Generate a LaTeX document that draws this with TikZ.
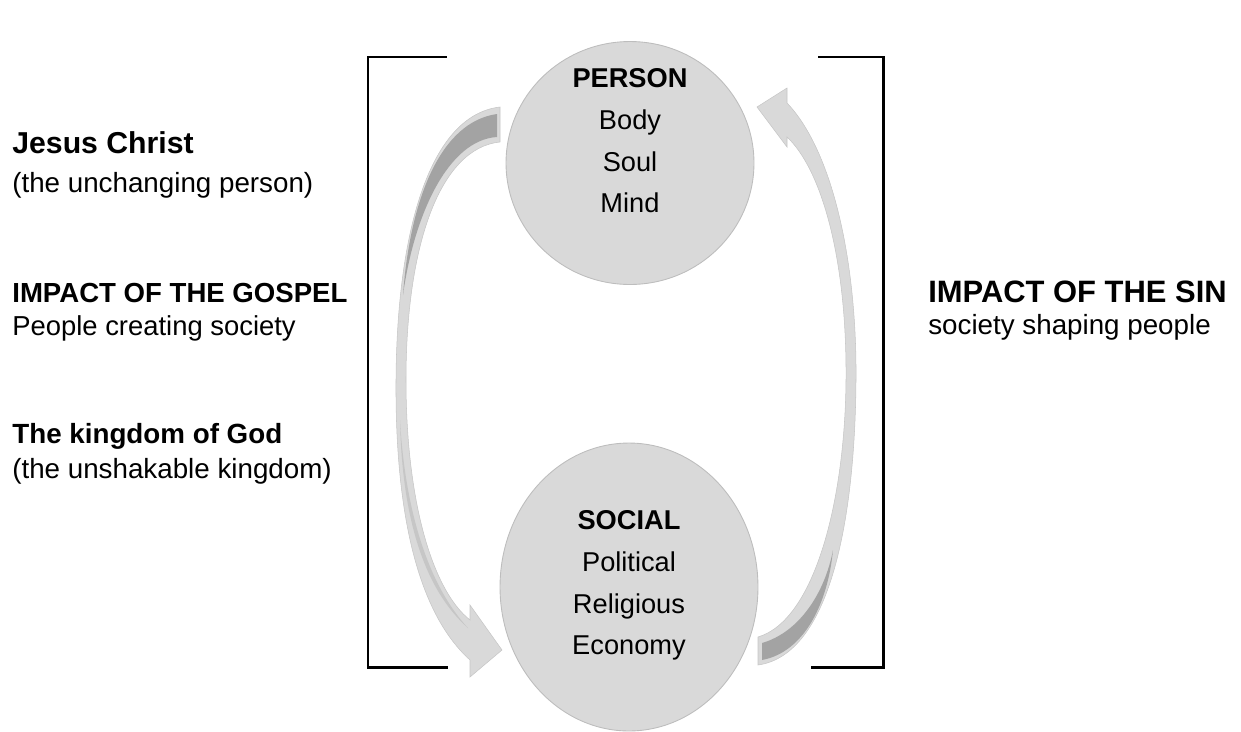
\documentclass[tikz,border=0pt]{standalone}
\usepackage{fontspec}
\setmainfont{Liberation Sans}
\usetikzlibrary{shapes.geometric}
\definecolor{bubble}{HTML}{D9D9D9}
\definecolor{bubbleline}{HTML}{BDBDBD}
\definecolor{arrowlight}{HTML}{D9D9D9}
\definecolor{arrowmid}{HTML}{C6C6C6}
\definecolor{arrowdark}{HTML}{A3A3A3}
\tikzset{
  bubble/.style={ellipse,draw=bubbleline,fill=bubble,line width=0.5pt,inner sep=0pt},
  intext/.style={anchor=north,align=center,inner sep=0pt,font=\fontsize{15.5}{23.8}\selectfont},
  side/.style={anchor=base west,inner sep=0pt,font=\fontsize{15.8}{18}\selectfont},
  bigside/.style={anchor=base west,inner sep=0pt,font=\fontsize{17.4}{20}\selectfont\bfseries},
  band/.style={fill=arrowlight,draw=arrowmid,line width=0.3pt},
  bracket/.style={line width=1.7pt,line cap=rect},
}

\begin{document}
\begin{tikzpicture}[x=0.02cm,y=-0.02cm]
	\useasboundingbox (0,0) rectangle (1241,731);

	\node[bubble,minimum width=4.96cm,minimum height=4.86cm] (person) at (630,163) {};
	\node[bubble,minimum width=5.16cm,minimum height=5.76cm] (social) at (629,587) {};
	\node[intext] (persontext) at (630,68) {\textbf{PERSON}\\Body\\Soul\\Mind};
	\node[intext] (socialtext) at (629,510) {\textbf{SOCIAL}\\Political\\Religious\\Economy};

	% brackets
	\draw[bracket] (446,57) -- (368,57) -- (368,667) -- (447,667);
	\draw[bracket] (819,57) -- (883,57) -- (883,667) -- (812,667);

	% gospel arrow, person to social
	\path[band] (500,107) .. controls (430,115) and (397,230) .. (396,380)
		.. controls (395,520) and (420,615) .. (470,660) -- (470,677) -- (502,650) -- (470,605) -- (470,620)
		.. controls (432,590) and (406,500) .. (406,380)
		.. controls (406,245) and (440,148) .. (500,142) -- cycle;
	\fill[arrowdark] (497,114) .. controls (440,122) and (410,200) .. (403,295)
		.. controls (414,215) and (448,140) .. (497,137) -- cycle;
	\fill[arrowmid] (400,420) .. controls (402,520) and (425,590) .. (468,628)
		.. controls (428,585) and (405,510) .. (400,420) -- cycle;

	% sin arrow, social to person
	\path[band] (758,637) .. controls (815,620) and (845,500) .. (846,380)
		.. controls (847,260) and (822,170) .. (787,137) -- (787,147) -- (757,107) -- (787,88) -- (787,103)
		.. controls (832,150) and (857,260) .. (856,380)
		.. controls (855,520) and (830,655) .. (758,665) -- cycle;
	\fill[arrowdark] (762,643) .. controls (800,632) and (825,592) .. (833,550)
		.. controls (828,602) and (805,652) .. (762,660) -- cycle;

	% left column
	\node[bigside,font=\fontsize{17.2}{20}\selectfont\bfseries] (jesus) at (12,153) {Jesus Christ};
	\node[side] (unchanging) at (12,192) {(the unchanging person)};
	\node[side,font=\fontsize{15.7}{18}\selectfont\bfseries] (gospel) at (12,302) {IMPACT OF THE GOSPEL};
	\node[side,font=\fontsize{15.6}{18}\selectfont] (creating) at (12,335) {People creating society};
	\node[side,font=\fontsize{15.8}{18}\selectfont\bfseries] (kingdom) at (12,443) {The kingdom of God};
	\node[side] (unshakable) at (12,478) {(the unshakable kingdom)};

	% right column
	\node[bigside,font=\fontsize{17.6}{20}\selectfont\bfseries] (sin) at (928,302) {IMPACT OF THE SIN};
	\node[side] (shaping) at (928,334) {society shaping people};
\end{tikzpicture}
\end{document}
